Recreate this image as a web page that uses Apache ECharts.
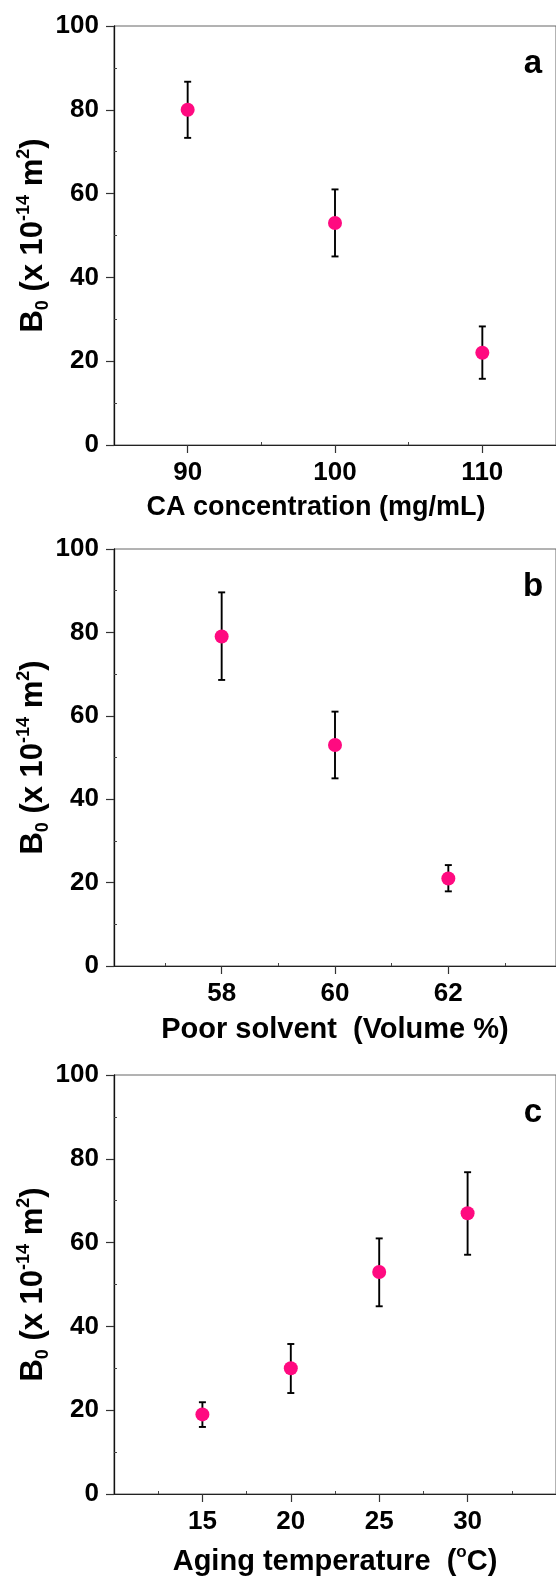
<!DOCTYPE html>
<html>
<head>
<meta charset="utf-8">
<title>B0 chart</title>
<script src="https://cdn.jsdelivr.net/npm/echarts@6/dist/echarts.min.js"></script>
<style>
body{margin:0;background:#fff;}
#main{width:556px;height:1578px;}
</style>
</head>
<body>
<div id="main"></div>
<script>
// panel a : CA concentration
var caX = [90, 100, 110];
var caY = [80, 53, 22];
var caHi = [86.7, 61, 28.3];
var caLo = [73.3, 45, 15.8];
// panel b : poor solvent
var psX = [58, 60, 62];
var psY = [79, 53, 21];
var psHi = [89.6, 61, 24.2];
var psLo = [68.6, 45, 17.9];
// panel c : aging temperature
var atX = [15, 20, 25, 30];
var atY = [19, 30, 53, 67];
var atHi = [21.9, 35.8, 61, 76.8];
var atLo = [16, 24.1, 44.8, 57.1];
// tick labels
var caTicks = [90, 100, 110], caMinor = [95, 105];
var psTicks = [58, 60, 62], psMinor = [57, 59, 61, 63];
var atTicks = [15, 20, 25, 30], atMinor = [12.5, 17.5, 22.5, 27.5, 32.5];
var yTicks = [0, 20, 40, 60, 80, 100], yMinor = [10, 30, 50, 70, 90];

var FONT = '"Liberation Sans", Arial, sans-serif';
var chart = echarts.init(document.getElementById('main'));

// 误差棒
function renderErr(params, api){
	var x = api.value(0);
	var lo = api.coord([x, api.value(1)]);
	var hi = api.coord([x, api.value(2)]);
	var w = 3.5;
	var st = {stroke:'#000', lineWidth:1.9};
	return {type:'group', children:[
		{type:'line', shape:{x1:lo[0], y1:lo[1], x2:hi[0], y2:hi[1]}, style:st},
		{type:'line', shape:{x1:hi[0]-w, y1:hi[1], x2:hi[0]+w, y2:hi[1]}, style:st},
		{type:'line', shape:{x1:lo[0]-w, y1:lo[1], x2:lo[0]+w, y2:lo[1]}, style:st}
	]};
}

function zip3(a, b, c){
	var out = [];
	for(var i=0;i<a.length;i++){ out.push([a[i], b[i], c[i]]); }
	return out;
}

function makeRich(size){
	return {
		n:{fontSize:size, fontWeight:'bold', fontFamily:FONT, lineHeight:size+6, color:'#000'},
		sup:{fontSize:Math.round(size*0.58), fontWeight:'bold', fontFamily:FONT, verticalAlign:'top', lineHeight:Math.round(size*0.58), color:'#000'},
		sub:{fontSize:Math.round(size*0.58), fontWeight:'bold', fontFamily:FONT, verticalAlign:'bottom', lineHeight:Math.round(size*0.5), color:'#000'}
	};
}

var yName = '{n|B}{sub|0}{n| (x 10}{sup|-14}{n| m}{sup|2}{n|)}';

var grids = [
	{left:114, width:448, top:26, height:419},
	{left:114, width:448, top:549, height:417},
	{left:114, width:448, top:1075, height:419}
];
var xInfo = [
	{min:85, max:115, ticks:caTicks, minor:caMinor, name:'{n|CA concentration (mg/mL)}', size:27, gap:46, pad:[0,38,0,0]},
	{min:56.1, max:63.9, ticks:psTicks, minor:psMinor, name:'{n|Poor solvent  (Volume %)}', size:29, gap:46, pad:[0,0,0,0]},
	{min:10, max:35, ticks:atTicks, minor:atMinor, name:'{n|Aging temperature  (}{sup|o}{n|C)}', size:29, gap:50, pad:[0,0,0,0]}
];

var option = {
	animation:false,
	grid:[], xAxis:[], yAxis:[], series:[], graphic:[]
};

for(var g=0; g<3; g++){
	var gr = grids[g];
	option.grid.push({left:gr.left, width:gr.width, top:gr.top, height:gr.height,
		show:true, borderColor:'#666', borderWidth:1});
	var xi = xInfo[g];
	// main x axis
	option.xAxis.push({
		gridIndex:g, type:'value', min:xi.min, max:xi.max, position:'bottom',
		axisLine:{onZero:false, lineStyle:{color:'#222', width:1.2}},
		axisTick:{customValues:xi.ticks, length:8, lineStyle:{color:'#333', width:1.2}},
		axisLabel:{customValues:xi.ticks, margin:15, fontSize:26, fontWeight:'bold', fontFamily:FONT, color:'#000'},
		splitLine:{show:false},
		name:xi.name, nameLocation:'middle', nameGap:xi.gap, nameMoveOverlap:false,
		nameTextStyle:{rich:makeRich(xi.size), padding:xi.pad}
	});
	// minor x ticks
	option.xAxis.push({
		gridIndex:g, type:'value', min:xi.min, max:xi.max, position:'bottom',
		axisLine:{show:false},
		axisTick:{customValues:xi.minor, inside:true, length:3, lineStyle:{color:'#444', width:1}},
		axisLabel:{show:false}, splitLine:{show:false}
	});
	// main y axis
	option.yAxis.push({
		gridIndex:g, type:'value', min:0, max:100, position:'left',
		axisLine:{show:true, onZero:false, lineStyle:{color:'#111', width:1.3}},
		axisTick:{customValues:yTicks, length:8, lineStyle:{color:'#333', width:1.2}},
		axisLabel:{customValues:yTicks, margin:15, fontSize:26, fontWeight:'bold', fontFamily:FONT, color:'#000'},
		splitLine:{show:false},
		name:yName, nameLocation:'middle', nameRotate:90, nameGap:62, nameMoveOverlap:false,
		nameTextStyle:{rich:makeRich(31)}
	});
	// minor y ticks
	option.yAxis.push({
		gridIndex:g, type:'value', min:0, max:100, position:'left',
		axisLine:{show:false},
		axisTick:{customValues:yMinor, inside:true, length:3, lineStyle:{color:'#444', width:1}},
		axisLabel:{show:false}, splitLine:{show:false}
	});
}

var sets = [[caX, caY, caHi, caLo], [psX, psY, psHi, psLo], [atX, atY, atHi, atLo]];
for(var s=0; s<3; s++){
	var d = sets[s];
	option.series.push({
		type:'custom', xAxisIndex:s*2, yAxisIndex:s*2,
		renderItem:renderErr, encode:{x:0, y:[1,2]},
		data:zip3(d[0], d[3], d[2]), z:2
	});
	var pts = [];
	for(var i=0;i<d[0].length;i++){ pts.push([d[0][i], d[1][i]]); }
	option.series.push({
		type:'scatter', xAxisIndex:s*2, yAxisIndex:s*2,
		symbol:'circle', symbolSize:14,
		itemStyle:{color:'#ff0a80', opacity:1},
		data:pts, z:3
	});
}

// 面板字母
var letters = ['a', 'b', 'c'];
for(var k=0;k<3;k++){
	option.graphic.push({
		type:'text', x:533, y:grids[k].top + 38,
		style:{text:letters[k], font:'bold 33px ' + FONT, fill:'#000', textAlign:'center', textVerticalAlign:'middle'}
	});
}

chart.setOption(option);
</script>
</body>
</html>
